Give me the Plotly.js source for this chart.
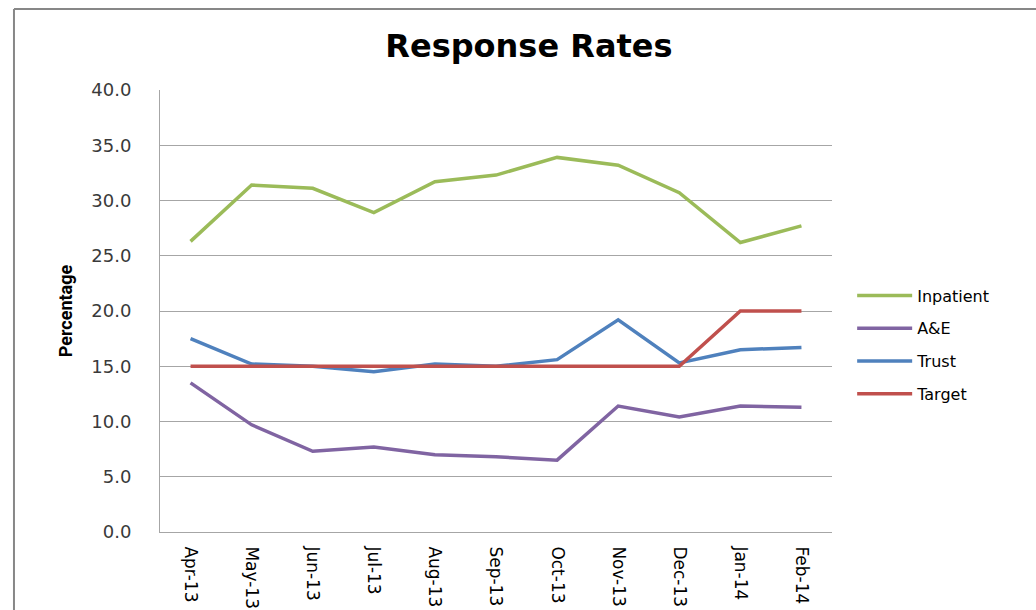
<!DOCTYPE html>
<html>
<head>
<meta charset="utf-8">
<script src="https://cdn.plot.ly/plotly-3.0.1.min.js"></script>
<style>
  html, body { margin: 0; padding: 0; background: #ffffff; }
  #chart { width: 1036px; height: 610px; }
</style>
</head>
<body>
<div id="chart"></div>
<script>
// Monthly response rates (%), April 2013 to February 2014
const months = ["Apr-13", "May-13", "Jun-13", "Jul-13", "Aug-13", "Sep-13",
                "Oct-13", "Nov-13", "Dec-13", "Jan-14", "Feb-14"];
const inpatient = [26.3, 31.4, 31.1, 28.9, 31.7, 32.3, 33.9, 33.2, 30.7, 26.2, 27.7];
const ae        = [13.5, 9.7, 7.3, 7.7, 7.0, 6.8, 6.5, 11.4, 10.4, 11.4, 11.3];
const trust     = [17.5, 15.2, 15.0, 14.5, 15.2, 15.0, 15.6, 19.2, 15.3, 16.5, 16.7];
const target    = [15.0, 15.0, 15.0, 15.0, 15.0, 15.0, 15.0, 15.0, 15.0, 20.0, 20.0];

const seriesNames  = ["Inpatient", "A&E", "Trust", "Target"];
const seriesValues = [inpatient, ae, trust, target];
const seriesColors = ["#9BBB59", "#8064A2", "#4F81BD", "#C0504D"];

const traces = seriesNames.map((name, i) => ({
  type: "scatter",
  mode: "lines",
  name: name,
  legendgroup: name,
  x: months,
  y: seriesValues[i],
  line: { color: seriesColors[i], width: 3.5 },
  hoverinfo: "x+y+name"
}));

const tickFont = { family: "DejaVu Sans, Verdana, sans-serif", size: 18, color: "#3a3a3a" };

const layout = {
  width: 1036,
  height: 610,
  margin: { l: 160, r: 204, t: 90, b: 78 },
  paper_bgcolor: "#ffffff",
  plot_bgcolor: "#ffffff",
  showlegend: true,
  title: {
    text: "<b>Response Rates</b>",
    font: { family: "DejaVu Sans, Verdana, sans-serif", size: 32, color: "#000000" },
    x: 0.549, xanchor: "center",
    xref: "paper",
    y: 1 - 46 / 610, yanchor: "middle", yref: "container"
  },
  xaxis: {
    type: "category",
    range: [-0.5, 10.5],
    tickangle: 90,
    tickfont: { family: "DejaVu Sans, Arial, sans-serif", size: 17, color: "#000000" },
    showgrid: false,
    showline: true,
    linecolor: "#A6A6A6",
    linewidth: 1,
    ticks: "outside",
    ticklen: 10,
    tickcolor: "rgba(0,0,0,0)",
    zeroline: false,
    fixedrange: true
  },
  yaxis: {
    range: [0, 40],
    dtick: 5,
    tick0: 0,
    tickformat: ".1f",
    tickfont: tickFont,
    showgrid: true,
    gridcolor: "#A6A6A6",
    gridwidth: 1,
    showline: true,
    linecolor: "#A6A6A6",
    linewidth: 1,
    zeroline: false,
    ticks: "outside",
    ticklen: 24,
    tickcolor: "rgba(0,0,0,0)",
    title: {
      text: "<b>Percentage</b>",
      font: { family: "Liberation Sans Narrow, Roboto, Arial, sans-serif", size: 18, color: "#000000" },
      standoff: 14
    },
    automargin: false,
    fixedrange: true
  },
  legend: {
    x: 1.03, xanchor: "left",
    y: (532 - 345) / 442, yanchor: "middle",
    font: { family: "DejaVu Sans, Verdana, sans-serif", size: 16, color: "#000000" },
    bgcolor: "rgba(0,0,0,0)",
    tracegroupgap: 9,
    itemwidth: 55,
    traceorder: "grouped"
  },
  shapes: [
    // outer frame: top edge
    { type: "line", xref: "paper", yref: "paper",
      x0: -0.2173, x1: 1.32, y0: 1.1833, y1: 1.1833,
      line: { color: "#878787", width: 2 } },
    // outer frame: left edge
    { type: "line", xref: "paper", yref: "paper",
      x0: -0.2173, x1: -0.2173, y0: 1.1833, y1: -0.25,
      line: { color: "#878787", width: 2 } }
  ]
};

Plotly.newPlot("chart", traces, layout, { displayModeBar: false, staticPlot: true });
</script>
</body>
</html>
